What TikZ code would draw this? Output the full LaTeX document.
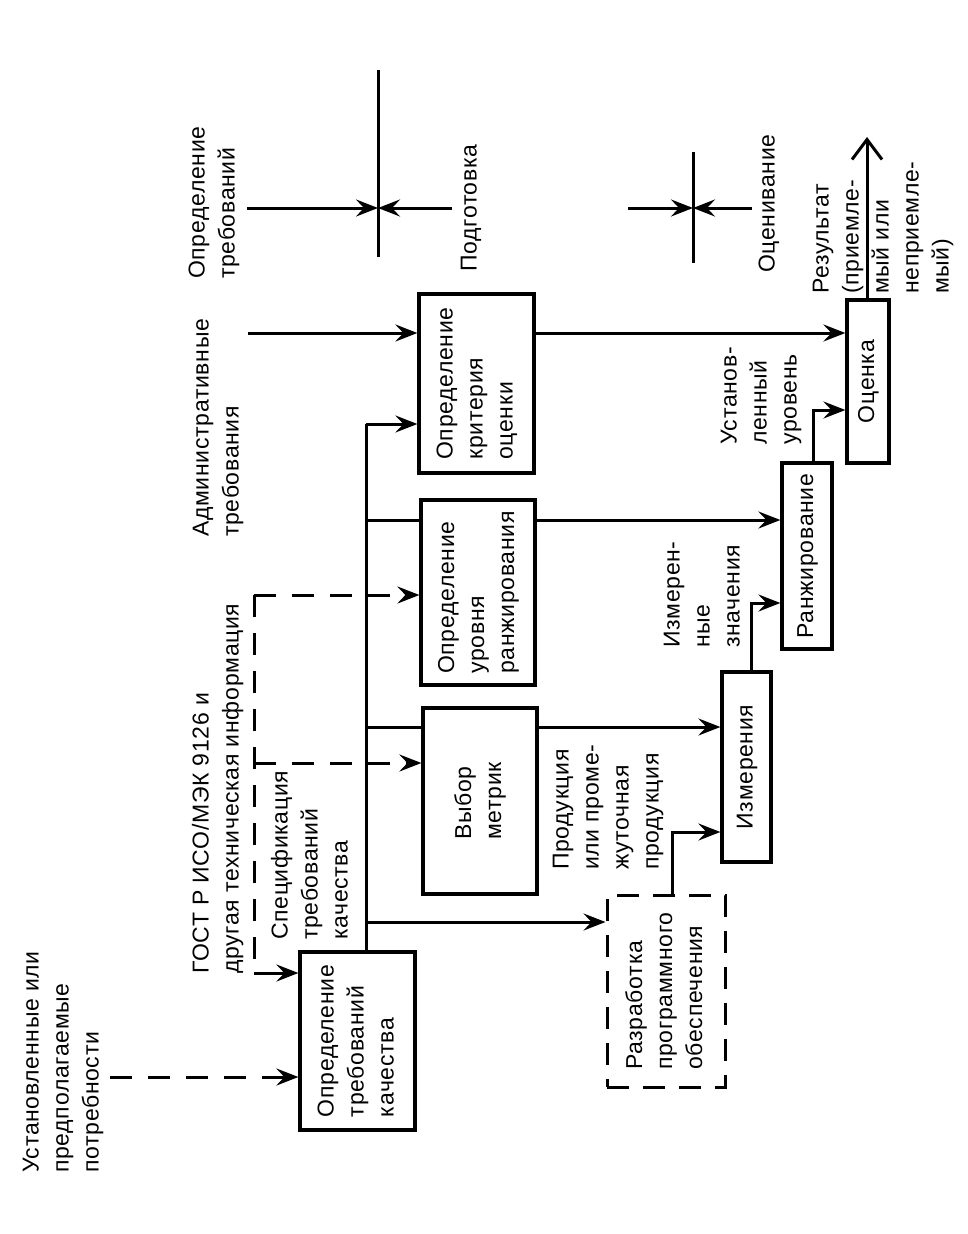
\documentclass[tikz,border=0pt]{standalone}
\usepackage{fontspec}
\setmainfont[LetterSpace=3]{Liberation Sans}
\usetikzlibrary{arrows.meta,calc}
\newcommand\mylines[1]{\begin{tabular}{@{}l@{}}#1\end{tabular}}
\newcommand\boxtext[1]{\rotatebox{90}{\mylines{#1}}}
\begin{document}
\begin{tikzpicture}[x=1pt,y=-1pt,
  every node/.style={font=\fontsize{23}{30}\selectfont},
  box/.style={draw, line width=3.2pt, inner sep=0pt, align=center},
  dbox/.style={box, line width=3pt, dash pattern=on 22pt off 14pt},
  conn/.style={draw, line width=3pt},
  arr/.style={conn, -{Stealth[length=22pt,width=17pt,inset=8pt]}},
  dline/.style={conn, dash pattern=on 22pt off 16pt},
  darr/.style={dline, -{Stealth[length=22pt,width=17pt,inset=8pt]}},
  resarr/.style={conn, -{Straight Barb[length=20pt,width=30pt,line width=3pt]}},
  lbl/.style={rotate=90, anchor=north west, inner sep=0pt}]
\fill[white] (0,0) rectangle (967,1234);
\useasboundingbox (0,0) rectangle (967,1234);

% boxes
\node[box, minimum width=115pt, minimum height=178pt] (b1) at (357.5,1041) {\boxtext{Определение\\требований\\качества}};
\node[box, minimum width=114pt, minimum height=186pt] (vyb) at (480,801) {\boxtext{Выбор\\метрик}};
\node[box, minimum width=114pt, minimum height=185pt] (rlev) at (478,592.5) {\boxtext{Определение\\уровня\\ранжирования}};
\node[box, minimum width=115pt, minimum height=179pt] (crit) at (476.5,383.5) {\boxtext{Определение\\критерия\\оценки}};
\node[box, minimum width=49pt, minimum height=190pt] (izm) at (746.5,767) {\boxtext{Измерения}};
\node[box, minimum width=50pt, minimum height=186pt] (rank) at (807,556) {\boxtext{Ранжирование}};
\node[box, minimum width=42pt, minimum height=163pt] (oc) at (868,381.5) {\boxtext{Оценка}};
\node[dbox, minimum width=118pt, minimum height=192pt] (razr) at (666,991) {\boxtext{Разработка\\программного\\обеспечения}};

% free labels
\node[lbl] (tNeeds) at (17.5,1173) {\mylines{Установленные или\\предполагаемые\\потребности}};
\node[lbl] (tGost) at (187.5,974) {\mylines{ГОСТ Р ИСО/МЭК 9126 и\\другая техническая информация}};
\node[lbl] (tAdm) at (187.5,537) {\mylines{Административные\\требования}};
\node[lbl] (tOpr) at (183.5,279) {\mylines{Определение\\требований}};
\node[lbl] (tPod) at (455.5,272) {\mylines{Подготовка}};
\node[lbl] (tOcv) at (753.5,273) {\mylines{Оценивание}};
\node[lbl] (tRes) at (807.5,294) {\mylines{Результат\\(приемле-\\мый или\\неприемле-\\мый)}};
\node[lbl] (tSpec) at (266.5,940) {\mylines{Спецификация\\требований\\качества}};
\node[lbl] (tProd) at (547.5,870) {\mylines{Продукция\\или проме-\\жуточная\\продукция}};
\node[lbl] (tIzm) at (658.5,648) {\mylines{Измерен-\\ные\\значения}};
\node[lbl] (tUst) at (715.5,445) {\mylines{Установ-\\ленный\\уровень}};

% bus from b1
\coordinate (bA) at (366,424);
\coordinate (bB) at (366,520);
\coordinate (bC) at (366,727);
\coordinate (bD) at (366,922);
\draw[conn] (b1.north -| bA) -- (bA);
\draw[arr] (bA) -- (crit.west |- bA);
\draw[conn] (bB) -- (rlev.west |- bB);
\draw[conn] (bC) -- (vyb.west |- bC);
\draw[arr] (bD) -- (razr.west |- bD);

% flows
\draw[arr] (vyb.east |- bC) -- (izm.west |- bC);
\coordinate (r1) at (672,832);
\draw[arr] (razr.north -| r1) |- (izm.west |- r1);
\coordinate (r2) at (751,603);
\draw[arr] (izm.north -| r2) |- (rank.west |- r2);
\draw[arr] (rlev.east |- bB) -- (rank.west |- bB);
\coordinate (r3) at (813,410);
\draw[arr] (rank.north -| r3) |- (oc.west |- r3);
\coordinate (adm) at (248,333);
\draw[arr] (adm) -- (crit.west |- adm);
\draw[arr] (crit.east |- adm) -- (oc.west |- adm);
\coordinate (res) at (867,137);
\draw[resarr] (oc.north -| res) -- (res);

% dashed inputs
\coordinate (need) at (110,1077);
\draw[darr] (need) -- (b1.west |- need);
\coordinate (g1) at (254,595);
\coordinate (g2) at (254,763);
\coordinate (g3) at (254,973);
\draw[dline] (g1) -- (g3);
\draw[darr] (g1) -- (rlev.west |- g1);
\draw[darr] (g2) -- (vyb.west |- g2);
\draw[arr] (g3) -- (b1.west |- g3);

% phase markers
\coordinate (c1) at (378,208);
\coordinate (c1t) at (378,70);
\coordinate (c1b) at (378,257);
\coordinate (c1l) at (247,208);
\coordinate (c1r) at (452,208);
\draw[conn] (c1t) -- (c1b);
\draw[arr] (c1l) -- (c1);
\draw[arr] (c1r) -- (c1);
\coordinate (c2) at (693,208);
\coordinate (c2t) at (693,152);
\coordinate (c2b) at (693,263);
\coordinate (c2l) at (628,208);
\coordinate (c2r) at (752,208);
\draw[conn] (c2t) -- (c2b);
\draw[arr] (c2l) -- (c2);
\draw[arr] (c2r) -- (c2);
\end{tikzpicture}
\end{document}
